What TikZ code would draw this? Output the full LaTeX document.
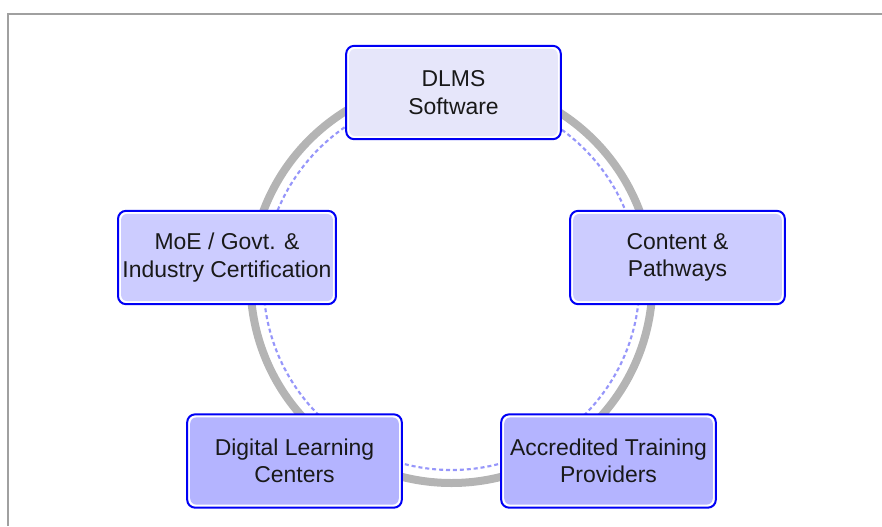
\documentclass[tikz,border=0pt]{standalone}
\usepackage{fontspec}
\setmainfont{Liberation Sans}
\usetikzlibrary{calc}

\definecolor{boxblue}{RGB}{0,0,245}
\definecolor{topfill}{RGB}{230,230,250}
\definecolor{midfill}{RGB}{204,204,255}
\definecolor{lowfill}{RGB}{180,180,255}
\definecolor{ringgray}{RGB}{180,180,180}
\definecolor{dashblue}{RGB}{150,150,250}
\definecolor{framegray}{RGB}{160,160,160}

\tikzset{
  hubbox/.style={draw=boxblue, line width=1.5pt, rounded corners=6pt, fill=white,
    minimum width=161pt, minimum height=70pt, align=center, text=black!90,
    font=\fontsize{17.2}{20.5}\selectfont,
    path picture={\fill[#1, rounded corners=4.5pt]
      ($(path picture bounding box.south west)+(2.3pt,2.3pt)$) rectangle
      ($(path picture bounding box.north east)-(2.3pt,2.3pt)$);}}
}

\begin{document}
\begin{tikzpicture}[x=0.75pt, y=-0.75pt]

    % Fix the page to the reference size (in pixels)
    \useasboundingbox (0,0) rectangle (882,526);

    % Outer frame, only its top and left edges show
    \draw[framegray, line width=1.2pt] (8,526) -- (8,14) -- (882,14);

    % Centre of the ring
    \coordinate (O) at (451.5,282);

    % Thick grey ring and the dashed ring inside it
    \draw[ringgray, line width=6pt] (O) circle (150.75pt);
    \draw[dashblue, line width=1.6pt, dash pattern=on 3pt off 2.2pt] (O) circle (141pt);

    % The five boxes around the ring
    \node[hubbox=topfill] (dlms) at (453.5,92.5) {DLMS\\Software};
    \node[hubbox=midfill] (moe) at (227,257.5) {MoE / Govt. \&\\Industry Certification};
    \node[hubbox=midfill] (content) at (677.5,257.5) {Content \&\\Pathways};
    \node[hubbox=lowfill] (dlc) at (294.5,461) {Digital Learning\\Centers};
    \node[hubbox=lowfill] (atp) at (608.5,461) {Accredited Training\\Providers};

\end{tikzpicture}
\end{document}
